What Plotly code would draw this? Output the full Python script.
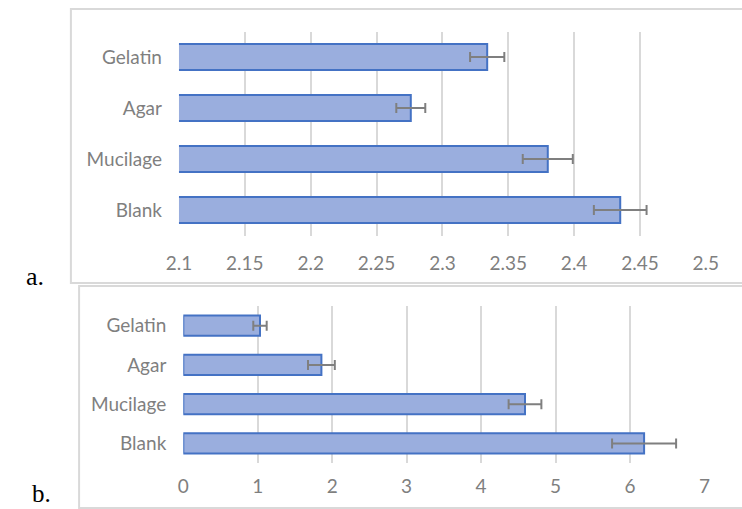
import plotly.graph_objects as go

W, H = 742, 509

categories = ["Blank", "Mucilage", "Agar", "Gelatin"]
values_a = [2.435, 2.380, 2.276, 2.334]
errors_a = [0.020, 0.019, 0.011, 0.013]
values_b = [6.19, 4.59, 1.855, 1.03]
errors_b = [0.43, 0.22, 0.18, 0.09]
ticks_a = [2.1, 2.15, 2.2, 2.25, 2.3, 2.35, 2.4, 2.45, 2.5]
tick_text_a = ["2.1", "2.15", "2.2", "2.25", "2.3", "2.35", "2.4", "2.45", "2.5"]
ticks_b = [0, 1, 2, 3, 4, 5, 6, 7]
tick_text_b = ["0", "1", "2", "3", "4", "5", "6", "7"]

FILL = "#9aaede"
EDGE = "#4472c4"
GRID = "#d9d9d9"
TXT = "#7f7f7f"
FONT = "Lato"


def px(x):
    return x / W


def py(y):
    return 1 - y / H


bar_style = dict(marker=dict(color=FILL, line=dict(color=EDGE, width=2)),
                 orientation="h", showlegend=False, hoverinfo="skip")

fig = go.Figure()
fig.add_trace(go.Bar(x=values_a, y=categories, xaxis="x", yaxis="y",
                     error_x=dict(type="data", array=errors_a, color=TXT, thickness=2, width=5),
                     **bar_style))
fig.add_trace(go.Bar(x=values_b, y=categories, xaxis="x2", yaxis="y2",
                     error_x=dict(type="data", array=errors_b, color=TXT, thickness=2, width=5),
                     **bar_style))

tickfont = dict(family=FONT, size=19, color=TXT)
xcommon = dict(showgrid=True, gridcolor=GRID, gridwidth=2, zeroline=False, showline=False,
               ticks="", tickfont=tickfont, fixedrange=True)
ycommon = dict(showgrid=False, zeroline=False, showline=False, ticks="", tickfont=tickfont,
               categoryorder="array", categoryarray=categories, fixedrange=True)

fig.update_layout(
    width=W, height=H,
    margin=dict(l=0, r=0, t=0, b=0),
    paper_bgcolor="white", plot_bgcolor="white",
    bargap=0.49,
    xaxis=dict(domain=[px(172), px(718)], range=[2.1, 2.5], tickvals=ticks_a, ticktext=tick_text_a,
               anchor="y", ticklabelstandoff=14, **xcommon),
    yaxis=dict(domain=[py(235.5), py(31.5)], anchor="x", ticklabelstandoff=16, **ycommon),
    xaxis2=dict(domain=[px(176.5), px(716.5)], range=[0, 7], tickvals=ticks_b, ticktext=tick_text_b,
                anchor="y2", ticklabelstandoff=10, **xcommon),
    yaxis2=dict(domain=[py(463), py(306)], anchor="x2", ticklabelstandoff=16, **ycommon),
    shapes=[
        dict(type="rect", xref="paper", yref="paper", x0=px(60), x1=px(760), y0=py(283), y1=py(9),
             line=dict(color=GRID, width=2), fillcolor="rgba(0,0,0,0)", layer="below"),
        dict(type="rect", xref="paper", yref="paper", x0=px(68.5), x1=px(760), y0=py(508), y1=py(286),
             line=dict(color=GRID, width=2), fillcolor="rgba(0,0,0,0)", layer="below"),
    ],
    annotations=[
        dict(text="a.", xref="paper", yref="paper", x=px(11), y=py(276), xanchor="left", yanchor="middle",
             showarrow=False, font=dict(family="Liberation Serif", size=26, color="black")),
        dict(text="b.", xref="paper", yref="paper", x=px(18), y=0, xanchor="left", yanchor="bottom",
             showarrow=False, font=dict(family="Liberation Serif", size=25, color="black")),
    ],
)

fig.write_html("out.html")
